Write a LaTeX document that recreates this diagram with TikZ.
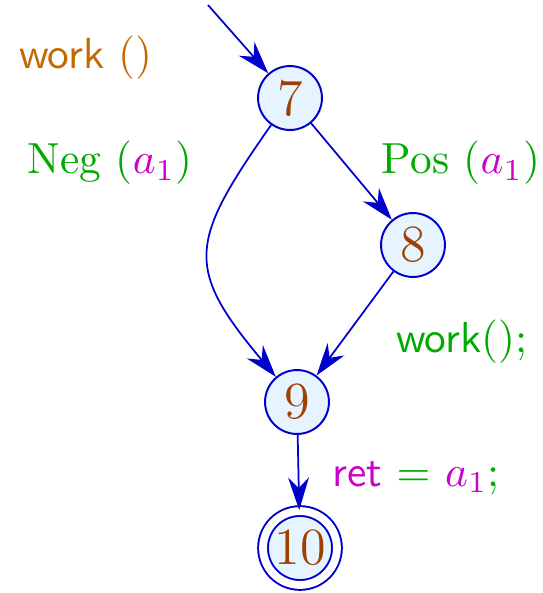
\documentclass[tikz,border=0pt]{standalone}
\usepackage{tikz}
\usetikzlibrary{arrows.meta, positioning}
\definecolor{nodeblue}{RGB}{0,0,204}
\definecolor{nodefill}{RGB}{230,244,255}
\definecolor{numbrown}{RGB}{160,64,0}
\definecolor{workorange}{RGB}{196,104,0}
\definecolor{labgreen}{RGB}{0,170,0}
\definecolor{labmag}{RGB}{204,0,204}
\tikzset{state/.style={circle,draw=nodeblue,fill=nodefill,line width=0.45pt,inner sep=0pt,minimum size=14.7pt,font=\large,text=numbrown},final/.style={state,double=white,double distance=1.8pt,minimum size=17pt},flow/.style={-{Stealth[length=7.5pt,width=4.8pt]},draw=nodeblue,line width=0.4pt}}
\begin{document}
\begin{tikzpicture}[x=0.23pt,y=-0.23pt]
\useasboundingbox (0,0) rectangle (543,593);
\coordinate (s) at (208,5);
\node[state] (n7) at (290,98) {7};
\node[state] (n8) at (413,245) {8};
\node[state] (n9) at (297,402) {9};
\node[final] (n10) at (300,548) {10};
\node[text=workorange] (lw) at (86,58) {\textsf{work} ()};
\node[text=labgreen] (lneg) at (110,163) {Neg (\textcolor{labmag}{$a_1$})};
\node[text=labgreen] (lpos) at (461,163) {Pos (\textcolor{labmag}{$a_1$})};
\node[text=labgreen] (lcall) at (462,342) {\textsf{work}();};
\node[text=labgreen] (lret) at (416,478) {\textcolor{labmag}{\textsf{ret}} $=$ \textcolor{labmag}{$a_1$};};
\draw[flow] (s) -- (n7);
\draw[flow] (n7) -- (n8);
\draw[flow] (n7) to[out=235,in=130,looseness=1.45] (n9);
\draw[flow] (n8) -- (n9);
\draw[flow] (n9) -- (n10);
\end{tikzpicture}
\end{document}
